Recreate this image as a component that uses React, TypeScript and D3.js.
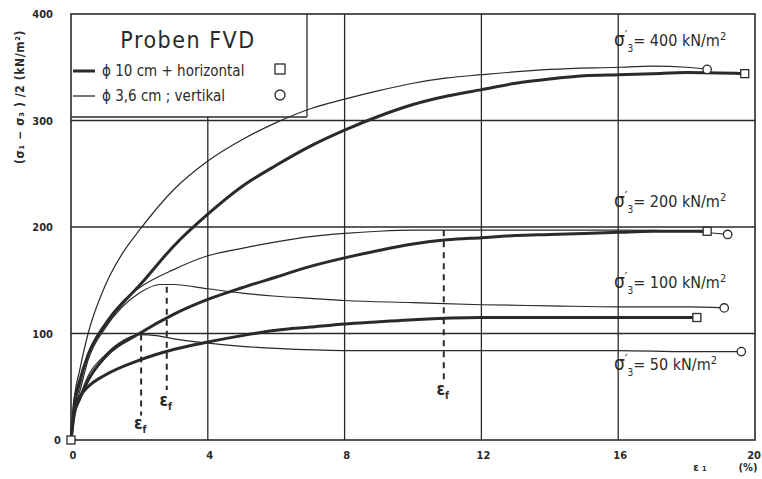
import * as d3 from 'd3'

const W = 762
const H = 479

// strain eps1 (%) vs (s1 - s3)/2 (kN/m2)
// thick = phi 10 cm horizontal (square), thin = phi 3,6 cm vertikal (circle)
const thick400: [number, number][] = [
  [0, 0], [0.1, 35], [0.25, 55], [0.5, 80], [1, 108], [1.5, 128], [2, 145], [3, 182], [4, 212],
  [5, 238], [6, 258], [7, 276], [8, 291], [9, 304], [10, 315], [11, 323], [12, 329], [13, 335],
  [14, 339], [15, 342], [16, 343], [17, 344], [18, 345], [19.7, 344],
]
const thin400: [number, number][] = [
  [0, 0], [0.1, 40], [0.25, 65], [0.5, 100], [1, 145], [1.5, 175], [2, 197], [3, 235], [4, 262],
  [5, 282], [6, 298], [7, 311], [8, 320], [9, 328], [10, 335], [11, 340], [12, 343], [14, 348],
  [16, 350], [17, 351], [18, 350], [18.6, 348],
]
const thick200: [number, number][] = [
  [0, 0], [0.1, 25], [0.25, 38], [0.5, 56], [1, 78], [2, 100], [3, 118], [4, 132], [5, 143],
  [6, 153], [7, 163], [8, 171], [9, 178], [10, 184], [11, 188], [12, 190], [13, 192], [14, 193],
  [16, 195], [17, 196], [18.6, 196],
]
const thin200: [number, number][] = [
  [0, 0], [0.1, 30], [0.25, 50], [0.5, 80], [1, 110], [1.5, 130], [2, 143], [3, 160], [4, 173],
  [5, 180], [6, 186], [7, 191], [8, 194], [9, 196], [10, 197], [12, 197], [14, 197], [16, 197],
  [18, 196], [19.2, 193],
]
const thick100: [number, number][] = [
  [0, 0], [0.1, 28], [0.25, 40], [0.5, 50], [1, 61], [2, 75], [3, 85], [4, 92], [5, 98],
  [6, 103], [7, 106], [8, 109], [9, 111], [10, 113], [12, 115], [14, 115], [16, 115], [18.3, 115],
]
const thin100: [number, number][] = [
  [0, 0], [0.1, 28], [0.25, 45], [0.5, 75], [1, 105], [1.5, 125], [2, 138], [2.6, 146], [3, 146],
  [4, 142], [5, 138], [6, 135], [7, 133], [8, 131], [10, 129], [12, 127], [14, 126], [16, 125],
  [18, 125], [19.1, 124],
]
const thin50: [number, number][] = [
  [0, 0], [0.1, 25], [0.25, 40], [0.5, 60], [1, 80], [1.5, 93], [2, 99], [2.5, 98], [3, 95],
  [4, 91], [5, 88], [6, 86], [8, 84], [10, 84], [12, 84], [14, 84], [16, 84], [18, 83], [19.6, 83],
]

const thickCurves = [thick400, thick200, thick100]
const thinCurves = [thin400, thin200, thin100, thin50]

// failure strain markers: [eps_f, top, bottom, label y value]
const failMarks: [number, number, number, number][] = [
  [2.05, 99, 23, 12],
  [2.8, 144, 47, 34],
  [10.9, 197, 54, 44],
]

const pressureLabels = ['400', '200', '100', '50']
const pressureLabelY = [370, 219, 143, 66]

const xTicks = [0, 4, 8, 12, 16, 20]
const yTicks = [0, 100, 200, 300, 400]

const FONT = '"DejaVu Sans Condensed", "DejaVu Sans", sans-serif'
const INK = '#2a2a2a'

export default function App() {
  const x = d3.scaleLinear().domain([0, 20]).range([71, 755])
  const y = d3.scaleLinear().domain([0, 400]).range([440, 14])
  const line = d3
    .line<[number, number]>()
    .x((d) => x(d[0]))
    .y((d) => y(d[1]))
    .curve(d3.curveMonotoneX)

  const boxRight = 307
  const boxBottom = 117

  return (
    <svg
      width={W}
      height={H}
      style={{ position: 'absolute', left: 0, top: 0, background: '#fff' }}
      fontFamily={FONT}
    >
      {/* grid */}
      <g stroke={INK} strokeWidth={1.3}>
        {[100, 200, 300].map((v) => (
          <line key={'h' + v} x1={x(0)} x2={x(20)} y1={y(v)} y2={y(v)} />
        ))}
        {[4, 8, 12, 16].map((v) => (
          <line key={'v' + v} x1={x(v)} x2={x(v)} y1={v === 4 ? boxBottom : y(400)} y2={y(0)} />
        ))}
        <rect x={x(0)} y={y(400)} width={x(20) - x(0)} height={y(0) - y(400)} fill="none" strokeWidth={1.6} />
        <line x1={x(0)} x2={boxRight} y1={boxBottom} y2={boxBottom} />
        <line x1={boxRight} x2={boxRight} y1={y(400)} y2={boxBottom} />
      </g>

      {/* ticks */}
      <g fontSize={11} fontWeight="bold" fill={INK}>
        {yTicks.map((v) => (
          <text key={'yt' + v} x={v === 0 ? 61 : 53} y={y(v) + 4} textAnchor="end">
            {v}
          </text>
        ))}
        {xTicks.map((v) => (
          <text
            key={'xt' + v}
            x={v === 20 ? 761 : x(v) + 2}
            y={459}
            textAnchor={v === 20 ? 'end' : 'middle'}
          >
            {v}
          </text>
        ))}
        <text x={700} y={471} textAnchor="middle">ε ₁</text>
        <text x={748} y={471} textAnchor="middle">(%)</text>
        <text
          transform={`translate(24,${97}) rotate(-90)`}
          textAnchor="middle"
          fontSize={12}
          letterSpacing={0.6}
        >
          (σ₁ − σ₃ ) /2   (kN/m²)
        </text>
      </g>

      {/* curves */}
      <g fill="none" stroke={INK} strokeLinejoin="round">
        {thinCurves.map((c, i) => (
          <path key={'thin' + i} d={line(c) ?? undefined} strokeWidth={1.2} />
        ))}
        {thickCurves.map((c, i) => (
          <path key={'thick' + i} d={line(c) ?? undefined} strokeWidth={3} />
        ))}
      </g>

      {/* end markers */}
      <g fill="#fff" stroke={INK} strokeWidth={1.3}>
        {thickCurves.map((c, i) => {
          const p = c[c.length - 1]
          return <rect key={'sq' + i} x={x(p[0]) - 4} y={y(p[1]) - 4} width={8} height={8} />
        })}
        {thinCurves.map((c, i) => {
          const p = c[c.length - 1]
          return <circle key={'ci' + i} cx={x(p[0])} cy={y(p[1])} r={4.2} />
        })}
        <rect x={x(0) - 4} y={y(0) - 4} width={8} height={8} />
      </g>

      {/* failure strain */}
      <g>
        {failMarks.map((m, i) => (
          <g key={'f' + i}>
            <line
              x1={x(m[0])}
              x2={x(m[0])}
              y1={y(m[1])}
              y2={y(m[2])}
              stroke={INK}
              strokeWidth={2}
              strokeDasharray="6 5"
            />
            <text x={x(m[0]) - 1} y={y(m[3]) + 2} textAnchor="middle" fontSize={17} fill={INK} fontWeight="bold">
              ε
              <tspan fontSize={10} dy={4}>f</tspan>
            </text>
          </g>
        ))}
      </g>

      {/* pressure labels */}
      <g fill={INK}>
        {pressureLabels.map((p, i) => (
          <text key={'p' + i} x={614} y={y(pressureLabelY[i])} fontSize={16}>
            <tspan fontSize={19}>σ</tspan>
            <tspan fontSize={13} dy={-7}>′</tspan>
            <tspan fontSize={10} dy={13}>3</tspan>
            <tspan dy={-6}>{p === '50' ? '=  ' + p : '= ' + p} kN/m</tspan>
            <tspan fontSize={11} dy={-6}>2</tspan>
          </text>
        ))}
      </g>

      {/* legend */}
      <g fill={INK}>
        <text x={188} y={48} textAnchor="middle" fontSize={23} letterSpacing={1.5}>
          Proben FVD
        </text>
        <line x1={73} x2={95} y1={71} y2={71} stroke={INK} strokeWidth={3} />
        <text x={102} y={76} fontSize={15}>ϕ 10 cm + horizontal</text>
        <rect x={275} y={64} width={10} height={10} fill="#fff" stroke={INK} strokeWidth={1.3} />
        <line x1={73} x2={95} y1={96} y2={96} stroke={INK} strokeWidth={1.3} />
        <text x={102} y={101} fontSize={15}>ϕ 3,6 cm ; vertikal</text>
        <circle cx={280} cy={95} r={5} fill="#fff" stroke={INK} strokeWidth={1.3} />
      </g>
    </svg>
  )
}
